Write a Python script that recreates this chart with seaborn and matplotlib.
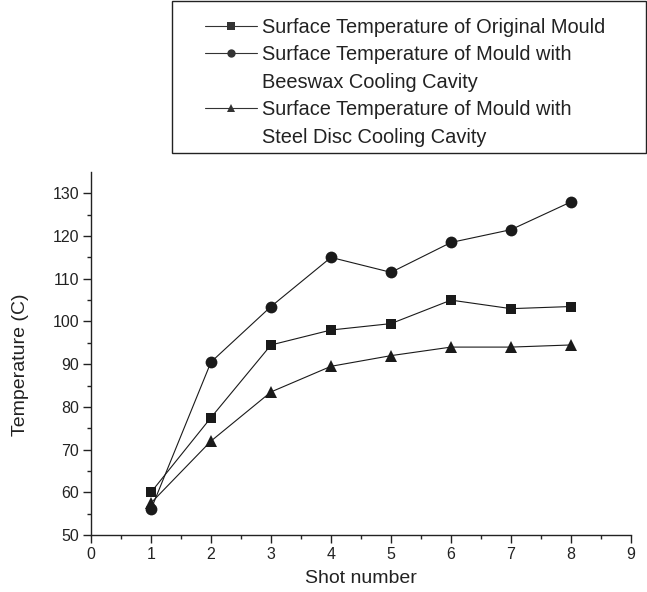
import matplotlib.pyplot as plt
import seaborn as sns
import pandas as pd
from matplotlib.lines import Line2D
from matplotlib.patches import Rectangle

# Shot numbers and surface temperatures (C)
shots = [1, 2, 3, 4, 5, 6, 7, 8]
original = [60, 77.5, 94.5, 98, 99.5, 105, 103, 103.5]
beeswax = [56, 90.5, 103.5, 115, 111.5, 118.5, 121.5, 128]
steel = [57.5, 72, 83.5, 89.5, 92, 94, 94, 94.5]

sns.set_style("ticks")
plt.rcParams['font.family'] = ['Liberation Sans', 'DejaVu Sans']

fig = plt.figure(figsize=(6.47, 5.92), dpi=100)
ax = fig.add_axes([91 / 647, 1 - 535 / 592, 540 / 647, 363 / 592])

df = pd.DataFrame({'shot': shots, 'original': original,
                   'beeswax': beeswax, 'steel': steel})

style = dict(color='#1a1a1a', linewidth=0.8, markeredgewidth=0)
sns.lineplot(data=df, x='shot', y='original', marker='s', markersize=7.5, ax=ax, **style)
sns.lineplot(data=df, x='shot', y='beeswax', marker='o', markersize=8.5, ax=ax, **style)
sns.lineplot(data=df, x='shot', y='steel', marker='^', markersize=8.5, ax=ax, **style)

ax.set_xlim(0, 9)
ax.set_ylim(50, 135)
ax.set_xticks(range(0, 10))
ax.set_yticks(range(50, 131, 10))
ax.set_xticks([i + 0.5 for i in range(0, 9)], minor=True)
ax.set_yticks(range(55, 135, 10), minor=True)
ax.tick_params(which='both', direction='out', colors='#222222', width=1)
ax.tick_params(which='major', length=5.5, labelsize=11.5, pad=3)
ax.tick_params(which='minor', length=3)
for s in ['left', 'bottom']:
    ax.spines[s].set_color('#222222')
    ax.spines[s].set_linewidth(1)
sns.despine(ax=ax)
ax.set_xlabel('Shot number', fontsize=14, color='#222222', labelpad=6)
ax.set_ylabel('Temperature (C)', fontsize=14, color='#222222', labelpad=17)
ax.yaxis.label.set_y(0.47)

# legend: second lines of long labels get blank handles so markers sit on line one
blank = Line2D([], [], linestyle='none')
h_orig = Line2D([], [], color='#333333', lw=0.8, marker='s', markersize=6, markeredgewidth=0)
h_bees = Line2D([], [], color='#333333', lw=0.8, marker='o', markersize=6, markeredgewidth=0)
h_steel = Line2D([], [], color='#333333', lw=0.8, marker='^', markersize=6, markeredgewidth=0)
handles = [h_orig, h_bees, blank, h_steel, blank]
labels = ['Surface Temperature of Original Mould',
          'Surface Temperature of Mould with',
          'Beeswax Cooling Cavity',
          'Surface Temperature of Mould with',
          'Steel Disc Cooling Cavity']
fig.legend(handles, labels, loc='upper left', bbox_to_anchor=(205 / 647, 1 - 18 / 592),
           frameon=False, fontsize=14.4, handlelength=2.6, handletextpad=0.25,
           labelspacing=0.42, borderpad=0, borderaxespad=0, labelcolor='#222222')
fig.patches.append(Rectangle((172 / 647, 1 - 153 / 592), 474 / 647, 152 / 592,
                             transform=fig.transFigure, fill=False,
                             edgecolor='#222222', linewidth=1))

fig.savefig('out.png', dpi=100)
